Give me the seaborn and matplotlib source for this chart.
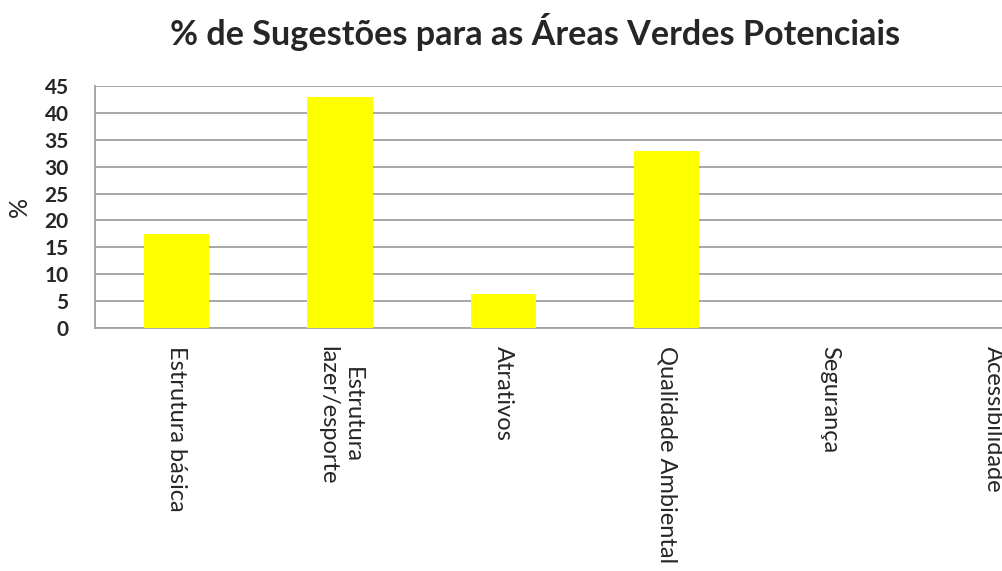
import matplotlib
matplotlib.use("Agg")
import matplotlib.pyplot as plt
import seaborn as sns
import pandas as pd
from matplotlib.ticker import FixedLocator, MultipleLocator

categories = ["Estrutura básica", "Estrutura\nlazer/esporte", "Atrativos",
              "Qualidade Ambiental", "Segurança", "Acessibilidade"]
values = [17.4, 42.9, 6.4, 32.9, 0.0, 0.0]
title = "% de Sugestões para as Áreas Verdes Potenciais"
ylabel = "%"

df = pd.DataFrame({"cat": categories, "val": values})

sns.set_style("white")
plt.rcParams['font.family'] = ['Lato', 'DejaVu Sans']

W, H = 1003, 571
fig = plt.figure(figsize=(W / 100, H / 100), dpi=100)
ax = fig.add_axes([95 / W, (H - 328) / H, 980 / W, 242 / H])

sns.barplot(data=df, x="cat", y="val", color="#FFFF00", width=0.4,
            saturation=1, ax=ax, zorder=3, edgecolor="none")

ax.set_xlim(-0.5, len(categories) - 0.5)
ax.set_ylim(0, 45)
ax.yaxis.set_major_locator(MultipleLocator(5))
ax.grid(axis="y", color="#a0a0a0", linewidth=1.3, zorder=0)
ax.set_axisbelow(True)

for s in ["top", "right"]:
    ax.spines[s].set_visible(False)
for s in ["left", "bottom"]:
    ax.spines[s].set_color("#a0a0a0")
    ax.spines[s].set_linewidth(1.3)

ax.tick_params(axis="y", which="major", length=7, color="#a0a0a0", width=1.3,
               labelsize=15, pad=12)
for lab in ax.get_yticklabels():
    lab.set_fontweight("bold")

ax.xaxis.set_minor_locator(FixedLocator([i - 0.5 for i in range(len(categories) + 1)]))
ax.tick_params(axis="x", which="minor", length=8, color="#a0a0a0", width=1.3)
ax.tick_params(axis="x", which="major", length=0, pad=13)
ax.set_xticks(range(len(categories)))
ax.set_xticklabels(categories, rotation=270, fontsize=17,
                   ha="center", va="top", multialignment="center")
ax.set_xlabel("")
ax.set_ylabel(ylabel, fontsize=18)
ax.yaxis.set_label_coords((19 - 95) / 980, 0.5)
ax.yaxis.label.set_va("center")

fig.text(535 / W, 1 - 32 / H, title, ha="center", va="center",
         fontsize=24.6, fontweight="bold")

fig.savefig("out.png", dpi=100)
